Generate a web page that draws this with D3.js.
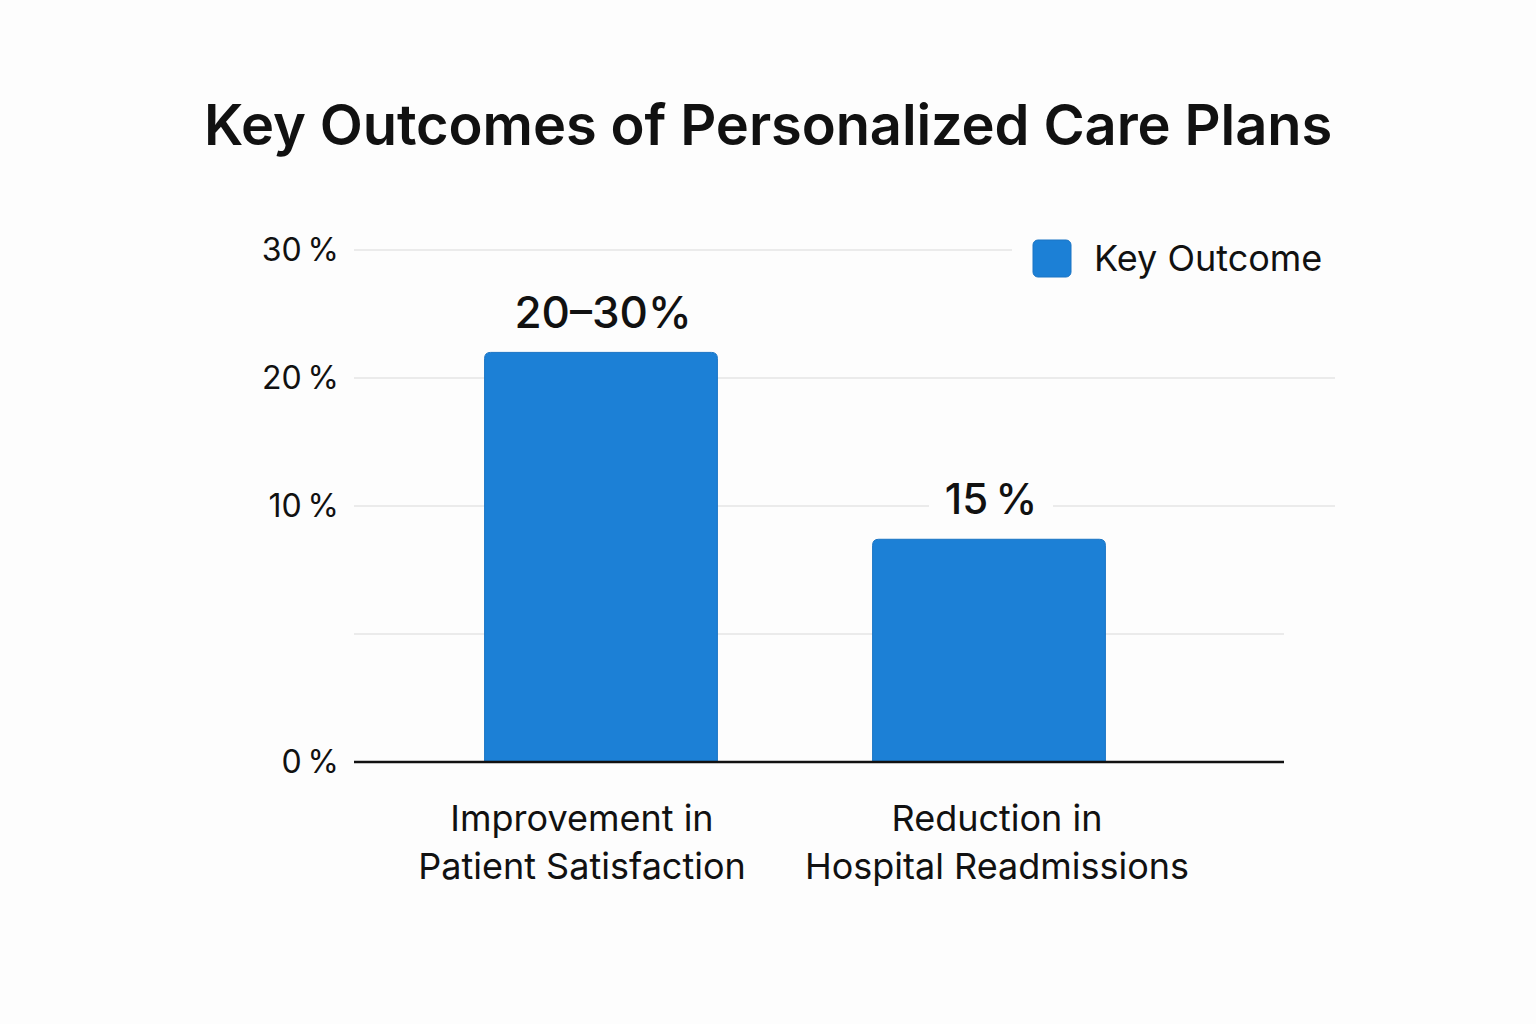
<!DOCTYPE html>
<html lang="en">
<head>
<meta charset="utf-8">
<title>Key Outcomes of Personalized Care Plans</title>
<script src="https://d3js.org/d3.v7.min.js"></script>
<style>
body { margin: 0; background: #fdfdfd; }
text { font-family: Inter, "Noto Sans", sans-serif; fill: #111; }
</style>
</head>
<body>
<script>
// data
const categories = [["Improvement in", "Patient Satisfaction"], ["Reduction in", "Hospital Readmissions"]];
const barValues = [22, 8.7];
const barLabels = ["20\u201330%", "15\u2009%"];
const tickValues = [0, 10, 20, 30];
const gridValues = [5, 10, 20, 30];
const seriesName = "Key Outcome";

const w = 1536, h = 1024;
const blue = "#1c80d6";

const svg = d3.select("body").append("svg")
  .attr("width", w)
  .attr("height", h);

svg.append("rect").attr("width", w).attr("height", h).attr("fill", "#fdfdfd");

// axis is stretched below 10%, as in the original
const y = d3.scaleLinear()
  .domain([0, 10, 30])
  .range([762, 506, 250]);

const x = d3.scaleBand()
  .domain(d3.range(categories.length))
  .range([407, 1183])
  .paddingInner(0.4)
  .paddingOuter(0.2);

// title
svg.append("text")
  .attr("x", 768).attr("y", 145)
  .attr("text-anchor", "middle")
  .style("font-size", "56px")
  .style("font-weight", 600)
  .style("letter-spacing", "-0.1px")
  .text("Key Outcomes of Personalized Care Plans");

// gridlines
svg.selectAll("line.grid")
  .data(gridValues)
  .enter().append("line")
  .attr("class", "grid")
  .attr("x1", 354)
  .attr("x2", d => d == 5 ? 1284 : 1335)
  .attr("y1", d => y(d)).attr("y2", d => y(d))
  .attr("stroke", "#ebebeb")
  .attr("stroke-width", 2);

// y tick labels
svg.selectAll("text.tick")
  .data(tickValues)
  .enter().append("text")
  .attr("class", "tick")
  .attr("x", 339)
  .attr("y", d => y(d))
  .attr("dy", "0.35em")
  .attr("text-anchor", "end")
  .style("font-size", "32px")
  .text(d => d + "\u2009%");

// bars with rounded tops
function barPath(i) {
  const x0 = x(i), x1 = x(i) + x.bandwidth();
  const y0 = y(0), y1 = y(barValues[i]);
  const r = 6;
  return `M${x0},${y0}V${y1 + r}Q${x0},${y1} ${x0 + r},${y1}H${x1 - r}Q${x1},${y1} ${x1},${y1 + r}V${y0}Z`;
}

svg.selectAll("path.bar")
  .data(barValues)
  .enter().append("path")
  .attr("class", "bar")
  .attr("d", (d, i) => barPath(i))
  .attr("fill", blue)
  .attr("stroke", "#1a74c4")
  .attr("stroke-width", 1);

// value labels with white backing
const vl = svg.selectAll("g.vlabel")
  .data(barValues)
  .enter().append("g")
  .attr("class", "vlabel")
  .attr("transform", (d, i) => `translate(${x(i) + x.bandwidth() / 2 + 2},${y(d) - 40})`);

vl.append("rect")
  .attr("x", -62).attr("y", -26)
  .attr("width", 124).attr("height", 52)
  .attr("fill", "#fdfdfd");

vl.append("text")
  .attr("text-anchor", "middle")
  .attr("dy", "0.36em")
  .style("font-size", (d, i) => i == 0 ? "44px" : "42px")
  .style("font-weight", 500)
  .text((d, i) => barLabels[i]);

vl.filter((d, i) => i == 0).select("rect").remove();

// baseline
svg.append("line")
  .attr("x1", 354).attr("x2", 1284)
  .attr("y1", y(0)).attr("y2", y(0))
  .attr("stroke", "#111")
  .attr("stroke-width", 2.5);

// category labels
const cl = svg.selectAll("text.cat")
  .data(categories)
  .enter().append("text")
  .attr("class", "cat")
  .attr("text-anchor", "middle")
  .style("font-size", "36px");

cl.selectAll("tspan")
  .data((d, i) => d.map(s => ({ s: s, i: i })))
  .enter().append("tspan")
  .attr("x", d => x(d.i) + x.bandwidth() / 2 + (d.i == 0 ? -19 : 8))
  .attr("y", (d, j) => 818 + j * 48)
  .attr("dy", "0.35em")
  .text(d => d.s);

// legend
const lg = svg.append("g").attr("transform", "translate(1012,228)");
lg.append("rect")
  .attr("width", 340).attr("height", 60)
  .attr("fill", "#fdfdfd");
lg.append("rect")
  .attr("x", 21).attr("y", 12)
  .attr("width", 38).attr("height", 37)
  .attr("rx", 5)
  .attr("fill", blue)
  .attr("stroke", "#1a74c4");
lg.append("text")
  .attr("x", 82).attr("y", 30)
  .attr("dy", "0.35em")
  .style("font-size", "36px")
  .text(seriesName);
</script>
</body>
</html>
